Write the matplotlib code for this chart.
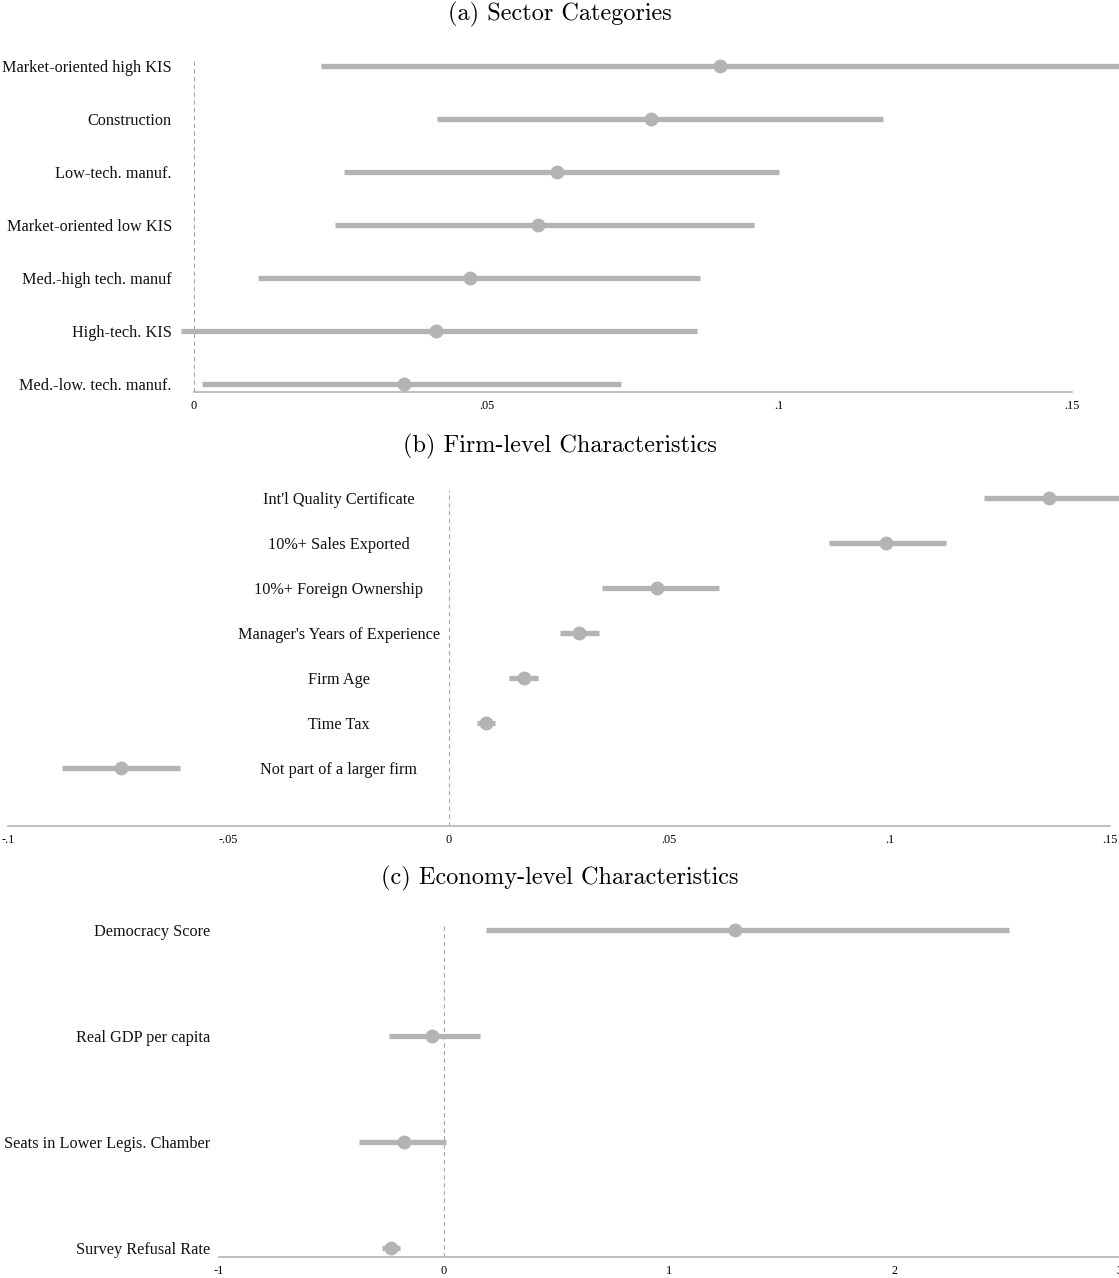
import matplotlib
matplotlib.use("Agg")
import matplotlib.pyplot as plt
import matplotlib.transforms as mtransforms

# (a) Sector categories
sector_labels = ["Market-oriented high KIS", "Construction", "Low-tech. manuf.",
                 "Market-oriented low KIS", "Med.-high tech. manuf", "High-tech. KIS",
                 "Med.-low. tech. manuf."]
sector_coef = [0.0899, 0.0781, 0.0620, 0.0588, 0.0472, 0.0413, 0.0359]
sector_lo = [0.0217, 0.0415, 0.0256, 0.0241, 0.0109, -0.0022, 0.0014]
sector_hi = [0.165, 0.1177, 0.0999, 0.0957, 0.0864, 0.0859, 0.0730]
sector_ticks = [0, 0.05, 0.1, 0.15]
sector_ticklabels = ["0", ".05", ".1", ".15"]

# (b) Firm-level characteristics
firm_labels = ["Int'l Quality Certificate", "10%+ Sales Exported", "10%+ Foreign Ownership",
               "Manager's Years of Experience", "Firm Age", "Time Tax",
               "Not part of a larger firm"]
firm_coef = [0.1361, 0.0991, 0.0472, 0.0295, 0.0170, 0.0084, -0.0744]
firm_lo = [0.1215, 0.0862, 0.0347, 0.0252, 0.0136, 0.0063, -0.0878]
firm_hi = [0.160, 0.1127, 0.0612, 0.0340, 0.0203, 0.0104, -0.0610]
firm_ticks = [-0.1, -0.05, 0, 0.05, 0.1, 0.15]
firm_ticklabels = ["-.1", "-.05", "0", ".05", ".1", ".15"]

# (c) Economy-level characteristics
econ_labels = ["Democracy Score", "Real GDP per capita", "Seats in Lower Legis. Chamber",
               "Survey Refusal Rate"]
econ_coef = [1.293, -0.053, -0.178, -0.236]
econ_lo = [0.187, -0.244, -0.378, -0.276]
econ_hi = [2.51, 0.16, 0.009, -0.196]
econ_ticks = [-1, 0, 1, 2, 3]
econ_ticklabels = ["-1", "0", "1", "2", "3"]

W, H = 1119, 1278
GREY = "#b3b3b3"
LABEL_FONT = "Liberation Serif"

fig = plt.figure(figsize=(W / 100, H / 100), dpi=100)


def panel(title, title_y, labels, coef, lo, hi, ticks, ticklabels,
          px0, v0, px1, v1, row0, step, axis_y, top_y, dash_top,
          label_x, label_ha, lw, ms):
    # axes spans whole figure width; data scale from two reference pixels
    scale = (px1 - px0) / (v1 - v0)
    xmin = v0 - px0 / scale
    xmax = v0 + (W - px0) / scale
    ax = fig.add_axes([0, 1 - axis_y / H, 1, (axis_y - top_y) / H])
    ax.set_xlim(xmin, xmax)
    ybot = (axis_y - row0) / step
    ytop = (top_y - row0) / step
    ax.set_ylim(ybot, ytop)
    ys = list(range(len(labels)))
    for y, c, l, h in zip(ys, coef, lo, hi):
        ax.plot([l, h], [y, y], color=GREY, lw=lw, solid_capstyle="butt", zorder=2)
        ax.plot(c, y, "o", color=GREY, ms=ms, zorder=3)
    ax.plot([0, 0], [ybot, (dash_top - row0) / step], color="#a8a8a8",
            lw=0.8, ls=(0, (4, 3)), zorder=1)
    lx = v0 + (label_x - px0) / scale
    # labels sit a touch lower than the row centre
    shift = ax.transData + mtransforms.ScaledTranslation(0, -2 / 100, fig.dpi_scale_trans)
    for y, lab in zip(ys, labels):
        ax.text(lx, y, lab, ha=label_ha, va="center", fontsize=11.7,
                family=LABEL_FONT, color="#111111", transform=shift)
    for s in ["top", "right", "left"]:
        ax.spines[s].set_visible(False)
    ax.spines["bottom"].set_color(GREY)
    ax.spines["bottom"].set_linewidth(1.2)
    ax.spines["bottom"].set_bounds(ticks[0], ticks[-1])
    ax.set_yticks([])
    ax.set_xticks(ticks)
    ax.set_xticklabels(ticklabels, family=LABEL_FONT, fontsize=8.8)
    ax.tick_params(axis="x", length=0, pad=5.5)
    fig.text(560 / W, 1 - (title_y + 2) / H, title, ha="center", va="center",
             family="cmr10", fontsize=17.5)
    return ax


panel("(a) Sector Categories", 12, sector_labels, sector_coef, sector_lo, sector_hi,
      sector_ticks, sector_ticklabels, 194, 0.0, 1072, 0.15,
      66, 53, 392, 40, 60, 172, "right", 3.8, 9)
panel("(b) Firm-level Characteristics", 444, firm_labels, firm_coef, firm_lo, firm_hi,
      firm_ticks, firm_ticklabels, 449, 0.0, 1110, 0.15,
      498, 45, 826, 470, 490, 339, "center", 3.8, 9)
panel("(c) Economy-level Characteristics", 876, econ_labels, econ_coef, econ_lo, econ_hi,
      econ_ticks, econ_ticklabels, 444, 0.0, 669, 1.0,
      930, 106, 1257, 905, 925, 210, "right", 3.8, 9)

fig.savefig("out.png", dpi=100)
